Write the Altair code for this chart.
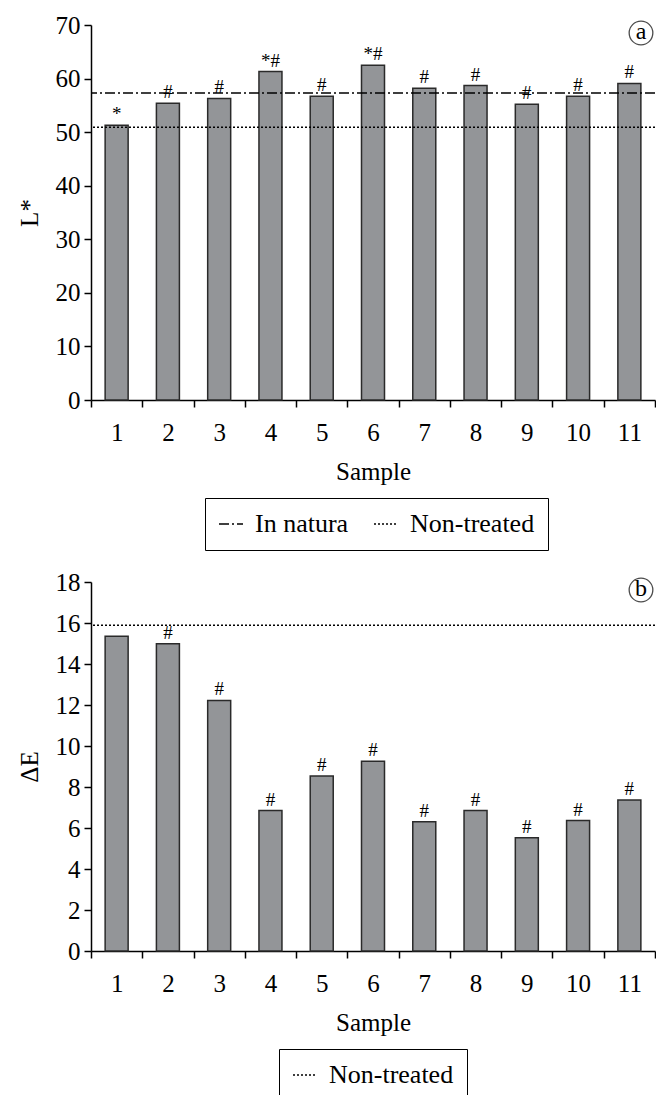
import altair as alt
import pandas as pd

samples = [str(i) for i in range(1, 12)]
L_values = [51.3, 55.4, 56.3, 61.3, 56.7, 62.5, 58.2, 58.7, 55.2, 56.7, 59.1]
L_marks = ["*", "#", "#", "*#", "#", "*#", "#", "#", "#", "#", "#"]
dE_values = [15.35, 14.99, 12.22, 6.85, 8.54, 9.26, 6.30, 6.85, 5.53, 6.36, 7.37]
dE_marks = ["", "#", "#", "#", "#", "#", "#", "#", "#", "#", "#"]
ref_L_names = ["In natura", "Non-treated"]
ref_L_values = [57.3, 50.9]
ref_dE_names = ["Non-treated"]
ref_dE_values = [15.89]

FONT = "'Liberation Serif', 'DejaVu Serif', serif"
W = 564
BAR_FILL = "#939598"


def panel(values, marks, ref_names, ref_values, ytitle, ymax, ystep, height, letter,
          leg_x, dash_range):
    df = pd.DataFrame({"Sample": samples, "v": values, "m": marks})
    refs = pd.DataFrame({"series": ref_names, "v": ref_values})
    lab = pd.DataFrame({"lab": [letter]})

    x = alt.X("Sample:N", sort=samples,
              scale=alt.Scale(paddingInner=0, paddingOuter=0),
              axis=alt.Axis(title="Sample", labelAngle=0, tickBand="extent",
                            labelPadding=13, titlePadding=14))
    y = alt.Y("v:Q", scale=alt.Scale(domain=[0, ymax], nice=False),
              axis=alt.Axis(title=ytitle, values=list(range(0, ymax + 1, ystep)),
                            labelPadding=4, titlePadding=13))

    bars = alt.Chart(df).mark_bar(size=23, fill=BAR_FILL, stroke="#2a2a2a",
                                  strokeWidth=1.5).encode(x=x, y=y)
    txt = alt.Chart(df).mark_text(font=FONT, fontSize=19, baseline="alphabetic",
                                  dy=-5, color="black").encode(
        x=alt.X("Sample:N", sort=samples), y="v:Q", text="m:N")
    rules = alt.Chart(refs).mark_rule(color="black", strokeWidth=1.5).encode(
        y="v:Q",
        strokeDash=alt.StrokeDash(
            "series:N",
            scale=alt.Scale(domain=ref_names, range=dash_range),
            legend=alt.Legend(orient="none", legendX=leg_x, legendY=height + 98,
                              direction="horizontal", title=None,
                              strokeColor="black", padding=13,
                              symbolType="stroke", symbolSize=576,
                              symbolStrokeWidth=1.5, symbolStrokeColor="black",
                              labelFont=FONT, labelFontSize=26, labelColor="black",
                              columnPadding=22, labelOffset=11)))
    circ = alt.Chart(lab).mark_point(shape="circle", size=560, filled=False,
                                     color="black", strokeWidth=1.3).encode(
        x=alt.value(W - 14), y=alt.value(8))
    letter_t = alt.Chart(lab).mark_text(font=FONT, fontSize=24, color="black",
                                        baseline="middle", dy=-1).encode(
        x=alt.value(W - 14), y=alt.value(8), text="lab:N")
    return alt.layer(bars, rules, txt, circ, letter_t).properties(width=W, height=height)


a = panel(L_values, L_marks, ref_L_names, ref_L_values, "L*", 70, 10, 375, "a", 114,
          [[10, 3, 2, 3], [2, 2]])
b = panel(dE_values, dE_marks, ref_dE_names, ref_dE_values, "ΔE", 18, 2, 369, "b", 188,
          [[2, 2]])

chart = alt.vconcat(a, b, spacing=19).resolve_scale(
    x="independent", y="independent", strokeDash="independent"
).resolve_legend(strokeDash="independent").properties(
    padding={"left": 9, "right": 0, "top": 5, "bottom": 5}
).configure_axis(
    labelFont=FONT, labelFontSize=25, labelColor="black",
    titleFont=FONT, titleFontSize=25, titleFontWeight="normal", titleColor="black",
    domainColor="black", tickColor="black", domainWidth=1.5, tickWidth=1.5,
    tickSize=7, grid=False
).configure_view(stroke=None)

chart.save("out.html", embed_options={"renderer": "svg", "actions": False})
